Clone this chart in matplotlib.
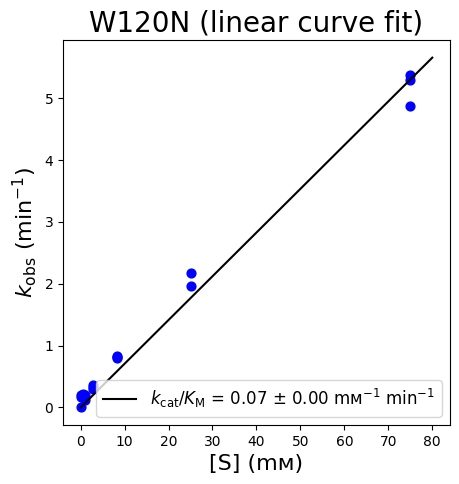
import matplotlib
matplotlib.use("Agg")
import matplotlib.pyplot as plt
import numpy as np

substrate = [0, 0, 0, 0.5, 0.9, 0.9, 2.78, 2.78, 2.78, 8.33, 8.33, 8.33, 25, 25, 75, 75, 75]
kobs = [0.0, 0.17, 0.2, 0.21, 0.12, 0.2, 0.37, 0.33, 0.30, 0.83, 0.80, 0.81, 2.17, 1.96, 5.37, 5.29, 4.87]
slope = 0.0707
fit_x = [0, 80]

fig, ax = plt.subplots(figsize=(4.6, 4.84), dpi=100)
ax.scatter(substrate, kobs, color="blue", s=40, zorder=2)
fx = np.array(fit_x)
ax.plot(fx, slope * fx, color="black",
        label="$k_{\\mathrm{cat}}/K_{\\mathrm{M}}$ = 0.07 \u00b1 0.00 m\u1d0d$^{-1}$ min$^{-1}$")
ax.set_title("W120N (linear curve fit)", fontsize=20)
ax.set_xlabel("[S] (m\u1d0d)", fontsize=16)
ax.set_ylabel("$k_{\\mathrm{obs}}$ (min$^{-1}$)", fontsize=16)
ax.set_xticks(np.arange(0, 81, 10))
ax.legend(loc="lower right", fontsize=12)
fig.subplots_adjust(left=0.137, right=0.978, top=0.917, bottom=0.122)
fig.savefig("out.png")
